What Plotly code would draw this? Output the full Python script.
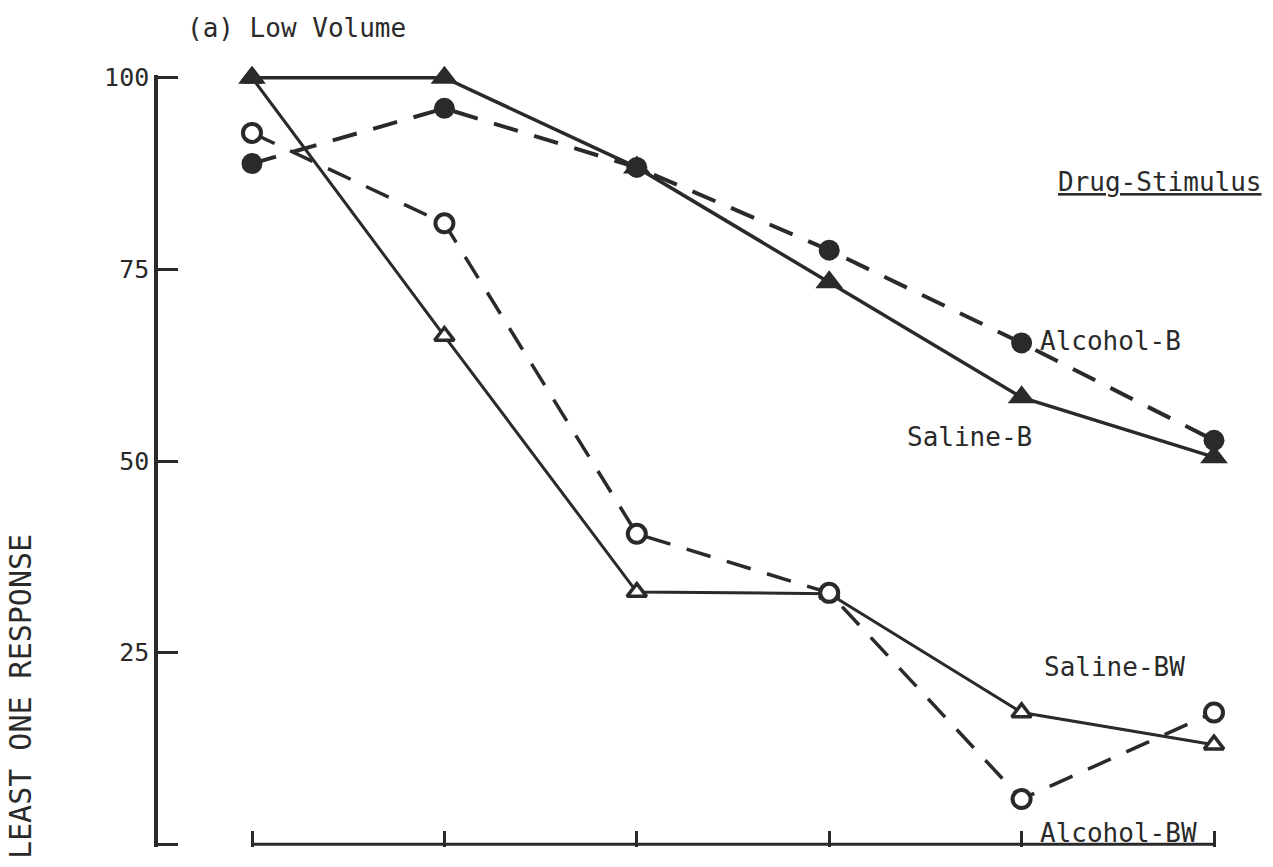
import plotly.graph_objects as go

trials = [1, 2, 3, 4, 5, 6]
saline_b = [100, 100, 88.3, 73.3, 58.3, 50.5]
alcohol_b = [88.8, 96.0, 88.3, 77.5, 65.4, 52.7]
saline_bw = [100, 66.3, 32.9, 32.7, 17.2, 13.0]
alcohol_bw = [92.8, 81.0, 40.5, 32.8, 5.9, 17.2]
y_ticks = [0, 25, 50, 75, 100]
y_tick_text = ["", "25", "50", "75", "100"]

INK = "#2a2a2a"
FONT = "DejaVu Sans Mono"
DASH = "25px,17px"

L, R, T, B = 158, 57, 75, 20
W, H = 1273, 867
pw = W - L - R
ph = H - T - B
X_START_PX = 252  # where the bottom axis begins
X_END_PX = 1214
Y_PAD = 0.35      # tiny padding so the end ticks are kept


def px(xp):
    return (xp - L) / pw


def py(yp):
    return (H - B - yp) / ph


# x range: trial 1 at X_START_PX, trial 6 at X_END_PX
x_span = trials[-1] - trials[0]
per_px = x_span / (X_END_PX - X_START_PX)
x_lo = trials[0] - per_px * (X_START_PX - L)
x_hi = trials[-1] + per_px * (W - R - X_END_PX)

fig = go.Figure()

fig.add_trace(go.Scatter(
    x=trials, y=saline_bw, mode="lines+markers", name="Saline-BW",
    line=dict(color=INK, width=3),
    marker=dict(symbol="triangle-up", size=17, color="white",
                line=dict(color=INK, width=3.5)),
    cliponaxis=False))
fig.add_trace(go.Scatter(
    x=trials, y=alcohol_bw, mode="lines+markers", name="Alcohol-BW",
    line=dict(color=INK, width=3.5, dash=DASH),
    marker=dict(symbol="circle", size=18, color="white",
                line=dict(color=INK, width=4)),
    cliponaxis=False))
fig.add_trace(go.Scatter(
    x=trials, y=alcohol_b, mode="lines+markers", name="Alcohol-B",
    line=dict(color=INK, width=4, dash=DASH),
    marker=dict(symbol="circle", size=21, color=INK),
    cliponaxis=False))
fig.add_trace(go.Scatter(
    x=trials, y=saline_b, mode="lines+markers", name="Saline-B",
    line=dict(color=INK, width=3.5),
    marker=dict(symbol="triangle-up", size=24, color=INK),
    cliponaxis=False))

fig.update_layout(
    width=W, height=H,
    margin=dict(l=L, r=R, t=T, b=B),
    paper_bgcolor="white", plot_bgcolor="white",
    showlegend=False,
    font=dict(family=FONT, color=INK, size=25),
    xaxis=dict(
        domain=[0, 1], range=[x_lo, x_hi], anchor="y",
        showgrid=False, zeroline=False, showline=False,
        ticks="inside", ticklen=16, tickwidth=3, tickcolor=INK,
        tickvals=trials, showticklabels=False),
    yaxis=dict(
        range=[y_ticks[0] - Y_PAD, y_ticks[-1] + Y_PAD], anchor="x", domain=[0, 1],
        showgrid=False, zeroline=False,
        showline=True, linecolor=INK, linewidth=3.5,
        ticks="inside", ticklen=20, tickwidth=3, tickcolor=INK,
        tickvals=y_ticks, ticktext=y_tick_text,
        tickfont=dict(family=FONT, size=25, color=INK)),
)

# bottom axis line only spans the trials
fig.add_shape(type="line", xref="x", yref="y",
              x0=trials[0], x1=trials[-1], y0=y_ticks[0], y1=y_ticks[0],
              line=dict(color=INK, width=3), layer="above")

ann_font = dict(family=FONT, size=26, color=INK)
fig.add_annotation(text="(a) Low Volume", xref="paper", yref="paper",
                   x=px(185), y=py(28), xanchor="left", yanchor="middle",
                   showarrow=False, font=ann_font)
fig.add_annotation(text="<u>Drug-Stimulus</u>", xref="paper", yref="paper",
                   x=px(1264), y=py(182), xanchor="right", yanchor="middle",
                   showarrow=False, font=ann_font)
fig.add_annotation(text="LEAST ONE RESPONSE", xref="paper", yref="paper",
                   x=px(20), y=py(697), textangle=-90,
                   xanchor="center", yanchor="middle",
                   showarrow=False, font=dict(family=FONT, size=30, color=INK))

fig.add_annotation(text="Alcohol-B", x=trials[4], y=alcohol_b[4],
                   xanchor="left", yanchor="middle", xshift=16, yshift=2,
                   showarrow=False, font=ann_font)
fig.add_annotation(text="Saline-B", x=trials[4], y=saline_b[4],
                   xanchor="right", yanchor="middle", xshift=12, yshift=-40,
                   showarrow=False, font=ann_font)
fig.add_annotation(text="Saline-BW", x=trials[4], y=saline_bw[4],
                   xanchor="left", yanchor="middle", xshift=20, yshift=45,
                   showarrow=False, font=ann_font)
fig.add_annotation(text="Alcohol-BW", x=trials[4], y=alcohol_bw[4],
                   xanchor="left", yanchor="middle", xshift=16, yshift=-34,
                   showarrow=False, font=ann_font)

fig.write_html("out.html")
